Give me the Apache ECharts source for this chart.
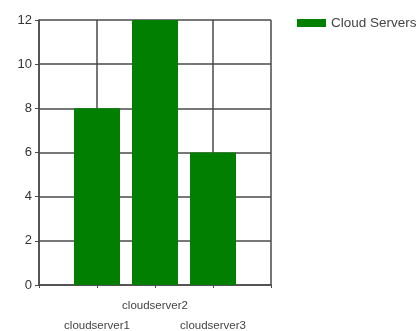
<!DOCTYPE html>
<html>
<head>
<meta charset="utf-8">
<script src="https://cdn.jsdelivr.net/npm/echarts@6/dist/echarts.min.js"></script>
<style>
html,body{margin:0;padding:0;background:#fff;}
#chart{width:420px;height:331px;}
</style>
</head>
<body>
<div id="chart"></div>
<script>
var seriesName = 'Cloud Servers';
var categories = ['cloudserver1', 'cloudserver2', 'cloudserver3'];
var values = [8, 12, 6];
var yTicks = [0, 2, 4, 6, 8, 10, 12];

var axisCats = [''].concat(categories).concat(['']);
var axisVals = [null].concat(values).concat([null]);

var chart = echarts.init(document.getElementById('chart'), null, {renderer: 'canvas'});
var lineCol = '#4a4a4a';
chart.setOption({
  animation: false,
  backgroundColor: '#fff',
  textStyle: {fontFamily: 'Liberation Sans'},
  grid: {left: 39, right: 149, top: 20, bottom: 46, containLabel: false, outerBoundsMode: 'none'},
  legend: {
    data: [seriesName],
    left: 292, top: 11,
    itemWidth: 29, itemHeight: 8, itemGap: 10,
    icon: 'rect',
    textStyle: {fontFamily: 'Liberation Sans', fontSize: 13.5, color: '#444', padding: [0,0,0,0]}
  },
  xAxis: {
    type: 'category',
    data: axisCats,
    boundaryGap: false,
    axisLine: {show: true, lineStyle: {color: lineCol, width: 1.5}},
    axisTick: {show: true, length: 3, interval: 0, lineStyle: {color: lineCol}},
    splitLine: {show: true, interval: 0, lineStyle: {color: lineCol, width: 1.5}},
    axisLabel: {
      interval: 0, margin: 11, fontSize: 11.5, color: '#444', lineHeight: 20,
      fontFamily: 'Liberation Sans',
      formatter: function (v, i) { return (i === 1 || i === 3) ? '\n' + v : v; }
    }
  },
  yAxis: {
    type: 'value',
    min: yTicks[0], max: yTicks[yTicks.length - 1], interval: 2,
    axisLine: {show: true, lineStyle: {color: lineCol, width: 1.5}},
    axisTick: {show: true, length: 4, lineStyle: {color: lineCol}},
    splitLine: {show: true, lineStyle: {color: lineCol, width: 1.5}},
    axisLabel: {fontSize: 13, color: '#333', margin: 7, fontFamily: 'Liberation Sans'}
  },
  series: [{
    name: seriesName,
    type: 'bar',
    data: axisVals,
    barWidth: 46,
    itemStyle: {color: '#007f00'}
  }]
});
</script>
</body>
</html>
